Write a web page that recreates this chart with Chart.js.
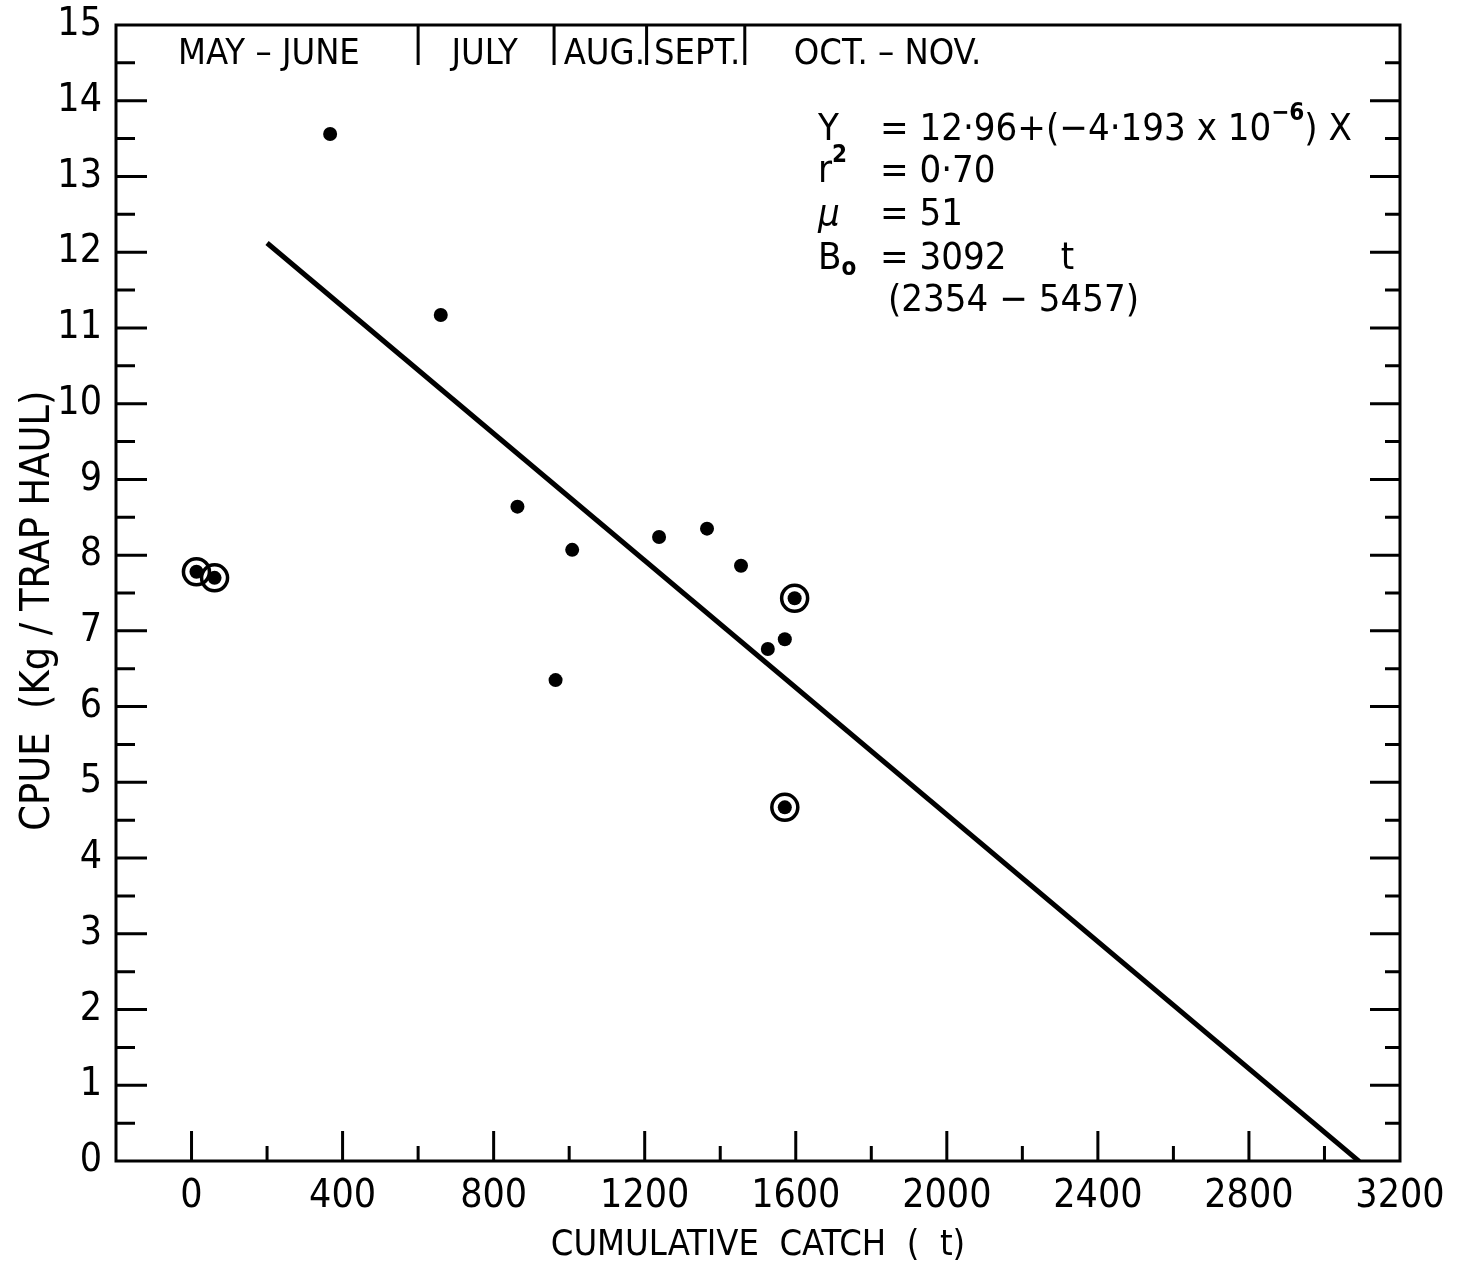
<!DOCTYPE html>
<html>
<head>
<meta charset="utf-8">
<script src="https://cdn.jsdelivr.net/npm/chart.js@4.4.1/dist/chart.umd.min.js"></script>
<style>
  html, body { margin: 0; padding: 0; background: #fff; }
  #wrap { width: 1470px; height: 1268px; }
</style>
</head>
<body>
<div id="wrap"><canvas id="c" width="1470" height="1268"></canvas></div>
<script>
// Catch per unit effort against cumulative catch, one point per sampling period
const cumulativeCatch = [367, 660, 863, 1008, 964, 1238, 1365, 1455, 1526, 1571, 1597, 1571, 13, 61];
const cpue            = [13.56, 11.17, 8.64, 8.07, 6.35, 8.24, 8.35, 7.86, 6.76, 6.89, 7.43, 4.67, 7.78, 7.70];

// Periods marked with a ring
const circledCatch = [13, 61, 1597, 1571];
const circledCpue  = [7.78, 7.70, 7.43, 4.67];

// Leslie regression: Y = 12.96 + (-4.193 x 10^-6) X, X in kg -> slope per tonne
const fitIntercept = 12.96;
const fitSlopePerTonne = -4.193e-3;
const fitRangeX = [200, 3092];

// Axis ticks
const xTickValues = [0, 400, 800, 1200, 1600, 2000, 2400, 2800, 3200];
const yTickValues = [0, 1, 2, 3, 4, 5, 6, 7, 8, 9, 10, 11, 12, 13, 14, 15];

// Fishing-season bands along the top of the plot (in cumulative catch)
const seasonNames  = ['MAY – JUNE', 'JULY', 'AUG.', 'SEPT.', 'OCT. – NOV.'];
const seasonLabelX = [205, 776, 1093, 1339, 1843];
const seasonBreaks = [600, 960, 1205, 1465];

const FONT = '"DejaVu Sans Condensed", "Liberation Sans Narrow", "DejaVu Sans", sans-serif';

const pts = (xs, ys) => xs.map((x, i) => ({ x: x, y: ys[i] }));
const fitLine = fitRangeX.map(x => ({ x: x, y: fitIntercept + fitSlopePerTonne * x }));

// Frame, inward tick marks, season dividers and the regression statistics
const decorations = {
  id: 'decorations',
  afterDraw(chart) {
    const { ctx, chartArea: a, scales: { x, y } } = chart;
    ctx.save();
    ctx.strokeStyle = '#000';
    ctx.fillStyle = '#000';
    ctx.lineWidth = 3;
    ctx.lineCap = 'butt';
    ctx.strokeRect(a.left, a.top, a.right - a.left, a.bottom - a.top);

    ctx.beginPath();
    for (let v = 0; v < 3200; v += 200) {
      const px = x.getPixelForValue(v);
      const len = (v % 400 === 0) ? 30 : 15;
      ctx.moveTo(px, a.bottom);
      ctx.lineTo(px, a.bottom - len);
    }
    for (let v = 0.5; v < 15; v += 0.5) {
      const py = y.getPixelForValue(v);
      const major = Number.isInteger(v);
      ctx.moveTo(a.left, py);
      ctx.lineTo(a.left + (major ? 31 : 19), py);
      ctx.moveTo(a.right, py);
      ctx.lineTo(a.right - (major ? 30 : 15), py);
    }
    seasonBreaks.forEach(v => {
      const px = x.getPixelForValue(v);
      ctx.moveTo(px, a.top);
      ctx.lineTo(px, a.top + 40);
    });
    ctx.stroke();

    ctx.textBaseline = 'middle';
    ctx.textAlign = 'center';
    ctx.font = '36px ' + FONT;
    seasonNames.forEach((s, i) => {
      ctx.fillText(s, x.getPixelForValue(seasonLabelX[i]), a.top + 30);
    });

    // regression statistics
    const lx = a.left + 702;
    const ex = a.left + 764;
    const big = '38px ' + FONT;
    const small = '24px ' + FONT;
    ctx.textAlign = 'left';
    const run = (parts, x0, yc) => {
      let cx = x0;
      parts.forEach(p => {
        ctx.font = p.f || big;
        ctx.fillText(p.t, cx, yc + (p.dy || 0));
        cx += ctx.measureText(p.t).width;
      });
    };
    run([{ t: 'Y' }], lx, a.top + 105);
    run([{ t: '= 12·96+(−4·193 x 10' }, { t: '−6', f: 'bold ' + small, dy: -16 }, { t: ') X' }], ex, a.top + 105);
    run([{ t: 'r' }, { t: '2', f: 'bold ' + small, dy: -16 }], lx, a.top + 147);
    run([{ t: '= 0·70' }], ex, a.top + 147);
    run([{ t: 'μ', f: 'italic ' + big }], lx, a.top + 190);
    run([{ t: '= 51' }], ex, a.top + 190);
    run([{ t: 'B' }, { t: 'o', f: 'bold ' + small, dy: 10 }], lx, a.top + 234);
    run([{ t: '= 3092     t' }], ex, a.top + 234);
    run([{ t: '(2354 − 5457)' }], ex + 8, a.top + 276);
    ctx.restore();
  }
};

new Chart(document.getElementById('c'), {
  type: 'scatter',
  data: {
    datasets: [
      {
        label: 'CPUE',
        data: pts(cumulativeCatch, cpue),
        pointRadius: 7,
        pointBorderWidth: 0,
        backgroundColor: '#000',
        order: 0
      },
      {
        label: 'Marked periods',
        data: pts(circledCatch, circledCpue),
        pointRadius: 13,
        pointBorderWidth: 3.5,
        borderColor: '#000',
        backgroundColor: 'rgba(0,0,0,0)',
        order: 1
      },
      {
        type: 'line',
        label: 'Regression',
        data: fitLine,
        borderColor: '#000',
        borderWidth: 5,
        pointRadius: 0,
        fill: false,
        order: 2
      }
    ]
  },
  options: {
    responsive: false,
    animation: false,
    devicePixelRatio: 1,
    layout: { padding: { top: 25, right: 70, left: 0, bottom: 0 } },
    plugins: { legend: { display: false }, tooltip: { enabled: false } },
    scales: {
      x: {
        type: 'linear',
        min: -200,
        max: 3200,
        afterBuildTicks: s => { s.ticks = xTickValues.map(v => ({ value: v })); },
        afterFit: s => { s.height = 107; s.paddingLeft = 0; s.paddingRight = 0; },
        grid: { display: false, drawTicks: false },
        border: { display: false },
        ticks: {
          color: '#000', padding: 12, maxRotation: 0,
          font: { family: FONT, size: 39 },
          callback: v => String(v)
        },
        title: {
          display: true,
          text: 'CUMULATIVE  CATCH  (  t)',
          color: '#000',
          font: { family: FONT, size: 36 },
          padding: { top: 0, bottom: 1 }
        }
      },
      y: {
        type: 'linear',
        min: 0,
        max: 15,
        afterBuildTicks: s => { s.ticks = yTickValues.map(v => ({ value: v })); },
        afterFit: s => { s.width = 116; s.paddingTop = 0; s.paddingBottom = 0; },
        grid: { display: false, drawTicks: false },
        border: { display: false },
        ticks: {
          color: '#000', padding: 14,
          font: { family: FONT, size: 39 },
          callback: v => String(v)
        },
        title: {
          display: true,
          text: 'CPUE  (Kg / TRAP HAUL)   ',
          color: '#000',
          font: { family: FONT, size: 41 },
          padding: { top: 14, bottom: 0 }
        }
      }
    }
  },
  plugins: [decorations]
});
</script>
</body>
</html>
